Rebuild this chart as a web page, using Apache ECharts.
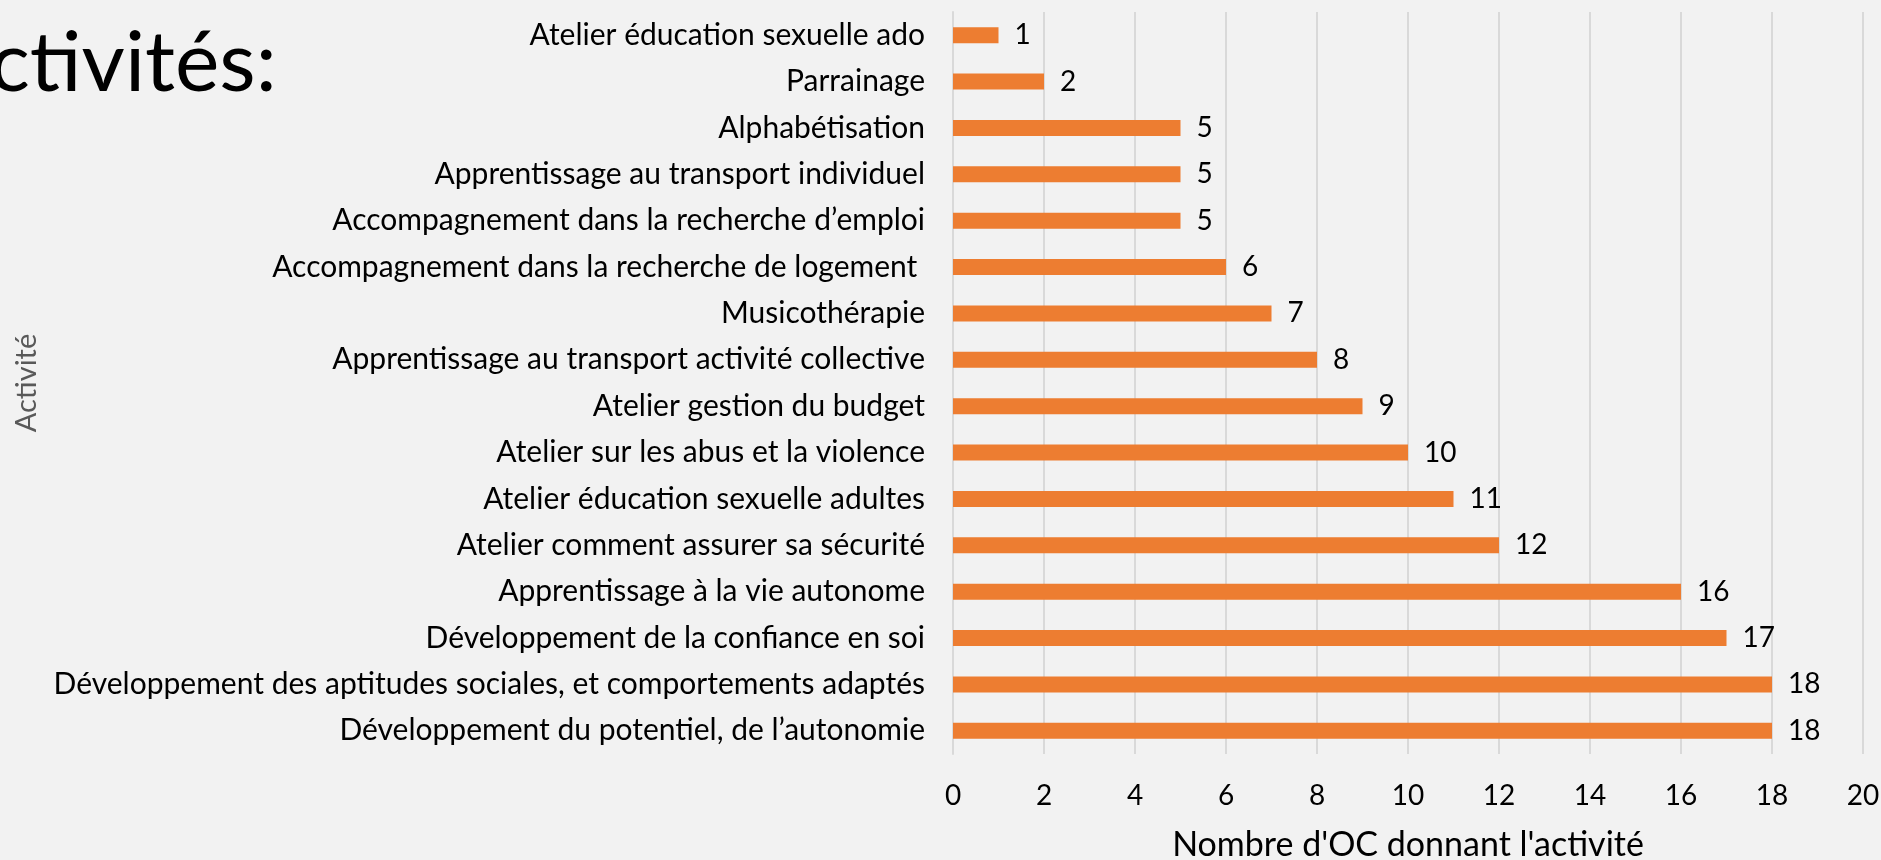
<!DOCTYPE html>
<html>
<head>
<meta charset="utf-8">
<script src="https://cdn.jsdelivr.net/npm/echarts@6/dist/echarts.min.js"></script>
<style>
  html, body { margin: 0; padding: 0; background: #f2f2f2; }
  #chart { width: 1881px; height: 860px; }
</style>
</head>
<body>
<div id="chart"></div>
<script>
// activités, du haut vers le bas
var activites = [
    "Atelier éducation sexuelle ado",
    "Parrainage",
    "Alphabétisation",
    "Apprentissage au transport individuel",
    "Accompagnement dans la recherche d’emploi",
    "Accompagnement dans la recherche de logement ",
    "Musicothérapie",
    "Apprentissage au transport activité collective",
    "Atelier gestion du budget",
    "Atelier sur les abus et la violence",
    "Atelier éducation sexuelle adultes",
    "Atelier comment assurer sa sécurité",
    "Apprentissage à la vie autonome",
    "Développement de la confiance en soi",
    "Développement des aptitudes sociales, et comportements adaptés",
    "Développement du potentiel, de l’autonomie"
];
var nbOC = [1, 2, 5, 5, 5, 6, 7, 8, 9, 10, 11, 12, 16, 17, 18, 18];

var FONT = 'Lato';

var dom = document.getElementById('chart');
var myChart = echarts.init(dom);

var option = {
    backgroundColor: '#f2f2f2',
    animation: false,
    textStyle: { fontFamily: FONT },
    graphic: [{
        type: 'text',
        left: -66,
        top: 22,
        style: {
            text: 'Activités:',
            fontFamily: FONT,
            fontSize: 84,
            fill: '#000'
        }
    }],
    grid: { left: 953, right: 18, top: 12, bottom: 106, outerBoundsMode: 'none' },
    xAxis: {
        type: 'value',
        min: 0,
        max: 20,
        interval: 2,
        name: "Nombre d'OC donnant l'activité",
        nameLocation: 'middle',
        nameGap: 74,
        nameTextStyle: { fontFamily: FONT, fontSize: 34, color: '#000' },
        axisLine: { show: false },
        axisTick: { show: false },
        axisLabel: { fontFamily: FONT, fontSize: 28, color: '#000', margin: 28 },
        splitLine: { lineStyle: { color: '#d9d9d9', width: 2 } }
    },
    yAxis: {
        type: 'category',
        inverse: true,
        data: activites,
        name: 'Activité',
        nameLocation: 'middle',
        nameGap: 912,
        nameTextStyle: { fontFamily: FONT, fontSize: 29, color: '#595959' },
        axisLine: { show: true, lineStyle: { color: '#d9d9d9', width: 2 } },
        axisTick: { show: false },
        axisLabel: { fontFamily: FONT, fontSize: 30, color: '#000', margin: 28 }
    },
    series: [{
        type: 'bar',
        data: nbOC,
        barWidth: 16,
        itemStyle: { color: '#ed7d31' },
        label: {
            show: true,
            position: 'right',
            distance: 16,
            fontFamily: FONT,
            fontSize: 28,
            color: '#000'
        }
    }]
};
myChart.setOption(option, true);
</script>
</body>
</html>
